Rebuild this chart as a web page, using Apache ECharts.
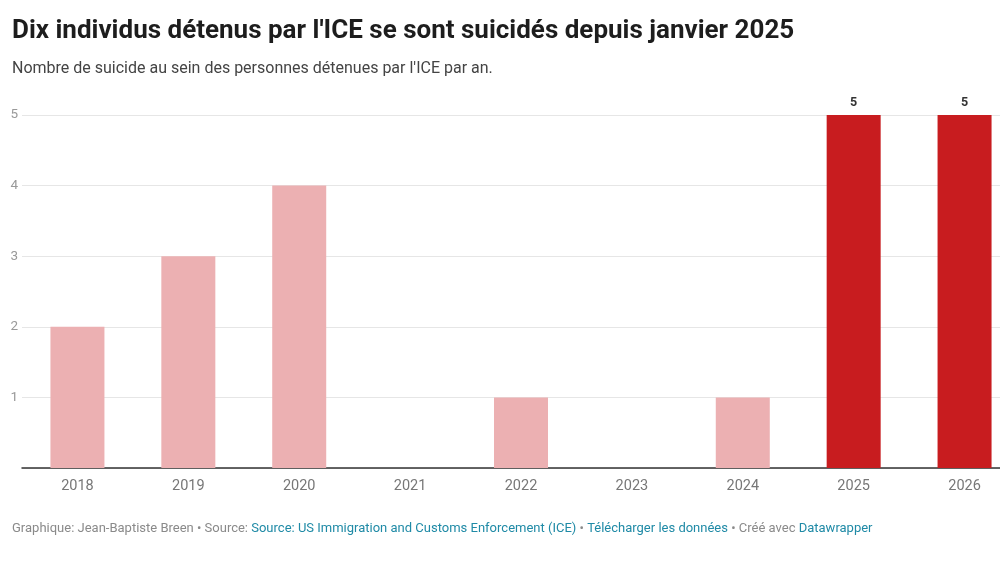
<!DOCTYPE html>
<html>
<head>
<meta charset="utf-8">
<script src="https://cdn.jsdelivr.net/npm/echarts@6/dist/echarts.min.js"></script>
<style>
  html, body { margin: 0; padding: 0; background: #fff; overflow: hidden; }
  #wrap { width: 1000px; height: 562px; overflow: hidden; }
  #chart { width: 1020px; height: 562px; }
</style>
</head>
<body>
<div id="wrap"><div id="chart"></div></div>
<script>
// suicides par an, détenus ICE
var years = ['2018', '2019', '2020', '2021', '2022', '2023', '2024', '2025', '2026'];
var suicides = [2, 3, 4, 0, 1, 0, 1, 5, 5];
var highlightYears = ['2025', '2026'];
var yTicks = [0, 1, 2, 3, 4, 5];

var PALE = '#ecb0b2';
var RED = '#c81c1f';

var myChart = echarts.init(document.getElementById('chart'));

var barData = years.map(function (y, i) {
    var hi = highlightYears.indexOf(y) >= 0;
    return {
        value: suicides[i],
        itemStyle: { color: hi ? RED : PALE },
        label: { show: hi }
    };
});

var option = {
    backgroundColor: '#fff',
    textStyle: { fontFamily: 'Roboto' },
    title: [{
        text: "Dix individus détenus par l'ICE se sont suicidés depuis janvier 2025",
        left: 12,
        top: 18,
        padding: 0,
        textStyle: { fontSize: 26, fontWeight: 'bold', color: '#1d1d1d', fontFamily: 'Roboto' }
    }, {
        text: "Nombre de suicide au sein des personnes détenues par l'ICE par an.",
        left: 12,
        top: 61,
        padding: 0,
        textStyle: { fontSize: 16, fontWeight: 'normal', color: '#444', fontFamily: 'Roboto' }
    }, {
        text: '{g|Graphique: Jean-Baptiste Breen • Source: }{l|Source: US Immigration and Customs Enforcement (ICE)}{g| • }{l|Télécharger les données}{g| • Créé avec }{l|Datawrapper}',
        left: 12,
        top: 522,
        padding: 0,
        textStyle: {
            fontSize: 13,
            fontWeight: 'normal',
            rich: {
                g: { fontSize: 13, fontWeight: 'normal', color: '#8a8a8a', fontFamily: 'Roboto' },
                l: { fontSize: 13, fontWeight: 'normal', color: '#1f8aa6', fontFamily: 'Roboto' }
            }
        }
    }],
    grid: { left: 22, right: 0, top: 115, bottom: 94, containLabel: false },
    xAxis: {
        type: 'category',
        data: years,
        axisLine: { lineStyle: { color: '#333', width: 1.5 } },
        axisTick: { show: false },
        axisLabel: { color: '#777', fontSize: 14.5, margin: 11 }
    },
    yAxis: {
        type: 'value',
        min: yTicks[0],
        max: yTicks[yTicks.length - 1],
        interval: 1,
        axisLine: { show: false },
        axisTick: { show: false },
        splitLine: { lineStyle: { color: '#e6e6e6' } },
        axisLabel: {
            color: '#999', fontSize: 13.5, margin: 4, align: 'right',
            formatter: function (v) { return v === 0 ? '' : String(v); }
        }
    },
    series: [{
        type: 'bar',
        data: barData,
        barWidth: 54,
        label: {
            position: 'top',
            distance: 6,
            color: '#333',
            fontSize: 12.5,
            fontWeight: 'bold'
        },
        silent: true
    }]
};

myChart.setOption(option);
</script>
</body>
</html>
